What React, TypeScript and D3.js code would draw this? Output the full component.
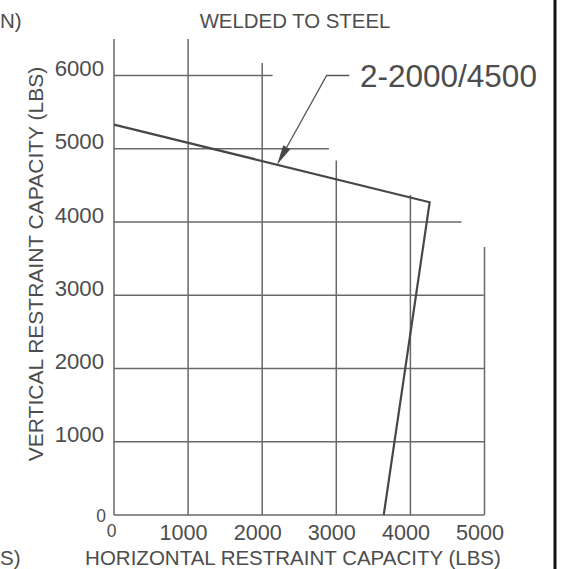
import * as d3 from "d3";

// tick values on both axes
const xTicks = [0, 1000, 2000, 3000, 4000, 5000];
const yTicks = [0, 1000, 2000, 3000, 4000, 5000, 6000];

// the drawing's grid lines are cut at uneven lengths (CAD style)
const vGridTop = [6500, 6500, 6170, 4840, 4370, 3660]; // top of each vertical line, lbs
const hGridEnd = [5000, 5000, 5000, 4990, 4690, 2900, 2140]; // right end of each horizontal line, lbs

// capacity curve, 2-2000/4500 welded to steel
const curveH = [0, 4260, 3640];
const curveV = [5330, 4270, 0];

const curveLabel = "2-2000/4500";
const leaderAt = 2200; // horizontal value where the arrow touches the curve
const leaderElbow = [2870, 6000];
const leaderEnd = [3175, 6000];

const W = 561;
const H = 569;
const font = "'Liberation Sans', Arial, sans-serif";
const textColor = "#4d4d4d";
const gridColor = "#686868";

export default function App() {
  const x = d3.scaleLinear().domain([0, 5000]).range([114, 484.5]);
  const y = d3.scaleLinear().domain([0, 6000]).range([515, 75.5]);

  const pts: [number, number][] = curveH.map((h, i) => [h, curveV[i]]);
  const line = d3
    .line<[number, number]>()
    .x((d) => x(d[0]))
    .y((d) => y(d[1]));

  // arrow tip sits on the first segment of the curve
  const tipV = d3.interpolateNumber(curveV[0], curveV[1])(leaderAt / curveH[1]);
  const tx = x(leaderAt);
  const ty = y(tipV);
  const ex = x(leaderElbow[0]);
  const ey = y(leaderElbow[1]);
  const len = Math.hypot(ex - tx, ey - ty);
  const ux = (ex - tx) / len;
  const uy = (ey - ty) / len;
  const aL = 20;
  const aW = 4;
  const bx = tx + ux * aL;
  const by = ty + uy * aL;
  const arrow = `M${tx},${ty}L${bx - uy * aW},${by + ux * aW}L${bx + uy * aW},${by - ux * aW}Z`;

  return (
    <svg
      width={W}
      height={H}
      style={{ position: "absolute", left: 0, top: 0, background: "#fff" }}
      fontFamily={font}
    >
      <rect width={W} height={H} fill="#fff" />

      {/* fragments of the neighbouring chart on the left */}
      <text x={0} y={28} fontSize={20.5} fill={textColor}>N)</text>
      <text x={0} y={565} fontSize={20.5} fill={textColor}>S)</text>

      <text x={295} y={28} fontSize={20.4} fill={textColor} textAnchor="middle">
        WELDED TO STEEL
      </text>

      {/* grid */}
      <g stroke={gridColor} strokeWidth={1.5}>
        {xTicks.map((t, i) => (
          <line key={"v" + t} x1={x(t)} x2={x(t)} y1={y(0)} y2={y(vGridTop[i])} />
        ))}
        {yTicks.map((t, i) => (
          <line key={"h" + t} x1={x(0)} x2={x(hGridEnd[i])} y1={y(t)} y2={y(t)} />
        ))}
      </g>

      {/* tick labels */}
      <g fill={textColor}>
        {yTicks.map((t) => (
          <text
            key={"yl" + t}
            x={t === 0 ? 106 : 104}
            y={t === 0 ? y(t) + 7 : y(t) + 0.5}
            fontSize={t === 0 ? 17.5 : 22.2}
            textAnchor="end"
          >
            {t}
          </text>
        ))}
        {xTicks.map((t) => (
          <text
            key={"xl" + t}
            x={x(t) - (t === 0 ? 2.5 : 4.5)}
            y={t === 0 ? 537 : 540}
            fontSize={t === 0 ? 17.5 : 21.6}
            textAnchor="middle"
          >
            {t}
          </text>
        ))}
      </g>

      {/* axis titles */}
      <text x={293} y={565} fontSize={20.5} fill={textColor} textAnchor="middle">
        HORIZONTAL RESTRAINT CAPACITY (LBS)
      </text>
      <text
        transform="translate(43,264) rotate(-90)"
        fontSize={21}
        fill={textColor}
        textAnchor="middle"
      >
        VERTICAL RESTRAINT CAPACITY (LBS)
      </text>

      {/* curve */}
      <path d={line(pts) ?? ""} fill="none" stroke="#474747" strokeWidth={2.2} strokeLinejoin="miter" />

      {/* leader and label */}
      <polyline
        points={`${x(leaderEnd[0])},${y(leaderEnd[1])} ${ex},${ey} ${bx},${by}`}
        fill="none"
        stroke="#555"
        strokeWidth={1.3}
      />
      <path d={arrow} fill="#474747" />
      <text x={360} y={87} fontSize={31.5} fill={textColor}>
        {curveLabel}
      </text>

      {/* frame edge on the right */}
      <line x1={555} x2={555} y1={0} y2={H} stroke="#111" strokeWidth={3} />
    </svg>
  );
}
